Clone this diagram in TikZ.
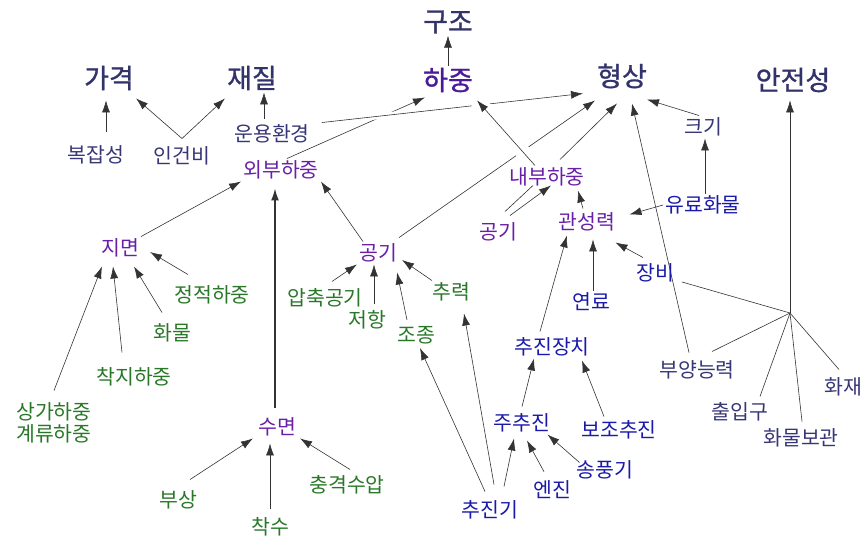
\documentclass[tikz,border=0pt]{standalone}
\usepackage{fontspec}
\setmainfont{Noto Sans CJK KR}
\newfontfamily\headFont[FakeBold=1]{Noto Sans CJK KR}
\usepackage{tikz}
\usetikzlibrary{arrows.meta,backgrounds}
\definecolor{headNavy}{RGB}{51,51,107}
\definecolor{loadIndigo}{RGB}{74,26,153}
\definecolor{loadPurple}{RGB}{106,31,168}
\definecolor{leafGreen}{RGB}{40,120,40}
\definecolor{partBlue}{RGB}{26,26,170}
\definecolor{slateNavy}{RGB}{55,55,120}
\tikzset{
  termBase/.style={inner sep=2pt,font=\fontsize{20.5}{22}\selectfont},
  headTerm/.style={termBase,font=\headFont\fontsize{27}{29}\selectfont,text=headNavy},
  loadHead/.style={headTerm,text=loadIndigo},
  subTerm/.style={termBase,text=slateNavy},
  loadTerm/.style={termBase,text=loadPurple},
  leafTerm/.style={termBase,text=leafGreen},
  partTerm/.style={termBase,text=partBlue},
  arr/.style={draw=black!80,line width=0.6pt,-{Latex[length=12pt,width=8pt]}},
  spoke/.style={draw=black!80,line width=0.6pt},
  gapped/.style={preaction={draw=white,line width=#1,arrows=-}}
}

\begin{document}
\begin{tikzpicture}[x=1pt,y=-1pt]
\useasboundingbox (0,0) rectangle (864,538);

% top row
\node[headTerm] (gujo) at (448,22) {구조};
\node[loadHead] (hajung) at (448,80) {하중};
\node[headTerm] (gagyeok) at (109,78) {가격};
\node[headTerm] (jaejil) at (252,78) {재질};
\node[headTerm] (hyeongsang) at (622,76) {형상};
\node[headTerm] (anjeon) at (793,80) {안전성};

% second row
\node[subTerm] (bokjap) at (96,155) {복잡성};
\node[subTerm] (ingeonbi) at (182,156) {인건비};
\node[subTerm] (unyong) at (272,134) {운용환경};
\node[subTerm] (keugi) at (703,127) {크기};
\node[loadTerm] (oebu) at (281,170) {외부하중};
\node[loadTerm] (naebu) at (547,177) {내부하중};
\node[loadTerm] (gonggiIn) at (498,232) {공기};
\node[loadTerm] (gwanseong) at (587,222) {관성력};
\node[partTerm] (yuryo) at (703,205) {유료화물};

% loads
\node[loadTerm] (jimyeon) at (120,248) {지면};
\node[loadTerm] (gonggiOut) at (378,253) {공기};
\node[loadTerm] (sumyeon) at (277,427) {수면};
\node[leafTerm] (jeongjeok) at (212,295) {정적하중};
\node[leafTerm] (hwamul) at (172,333) {화물};
\node[leafTerm] (chakji) at (134,377) {착지하중};
\node[leafTerm,align=center] (sangga) at (54,423) {상가하중\\계류하중};
\node[leafTerm] (apchuk) at (325,298) {압축공기};
\node[leafTerm] (jeohang) at (367,320) {저항};
\node[leafTerm] (jojong) at (416,335) {조종};
\node[leafTerm] (churyeok) at (451,292) {추력};
\node[leafTerm] (busang) at (178,500) {부상};
\node[leafTerm] (chaksu) at (270,527) {착수};
\node[leafTerm] (chunggyeok) at (347,485) {충격수압};

% propulsion and equipment
\node[partTerm] (jangbi) at (655,273) {장비};
\node[partTerm] (yeonryo) at (591,302) {연료};
\node[partTerm] (chujinjangchi) at (552,347) {추진장치};
\node[partTerm] (juchujin) at (522,423) {주추진};
\node[partTerm] (bojo) at (619,430) {보조추진};
\node[partTerm] (songpung) at (605,470) {송풍기};
\node[partTerm] (enjin) at (552,490) {엔진};
\node[partTerm] (chujingi) at (490,510) {추진기};

% safety
\node[subTerm] (buyang) at (697,370) {부양능력};
\node[subTerm] (chulip) at (740,412) {출입구};
\node[subTerm] (hwamulbo) at (801,438) {화물보관};
\node[subTerm] (hwajae) at (843,387) {화재};
\coordinate (hub) at (790,313);

\begin{scope}[on background layer]
\draw[arr] (hajung.north) -- (gujo.south);
\draw[arr,shorten <=12pt,shorten >=8pt] ([xshift=10pt]bokjap.north) -- ([xshift=10pt]bokjap.north |- gagyeok.south);
\draw[arr] ([yshift=6pt]ingeonbi.north) -- ([yshift=-6pt]gagyeok.south east);
\draw[arr] ([yshift=6pt]ingeonbi.north) -- ([yshift=-6pt]jaejil.south west);
\draw[arr,shorten <=4pt] ([xshift=-8pt]unyong.north) -- ([xshift=-8pt]unyong.north |- jaejil.south);

% crossing lines to the load and shape
\draw[arr] ([xshift=6pt]oebu.north) -- ([xshift=4pt,yshift=-3pt]hajung.south west);
\draw[arr,gapped=6pt] ([xshift=10pt]unyong.north east) -- ([xshift=-39pt,yshift=-3pt]hyeongsang.south);
\draw[arr] ([yshift=4pt]gonggiOut.north east) -- ([xshift=-27pt,yshift=-10pt]hyeongsang.south);
\draw[arr,gapped=15pt] ([xshift=-12pt]naebu.north) -- ([xshift=2pt,yshift=-6pt]hajung.south east);
\draw[arr] ([xshift=13pt,yshift=6pt]naebu.north) -- ([xshift=-5pt,yshift=-13pt]hyeongsang.south);

% external load
\draw[arr] ([xshift=-15pt]gonggiOut.north) -- (oebu.south east);
\draw[arr] (jimyeon.north east) -- (oebu.south west);
\draw[arr,line width=1.3pt,shorten <=8pt,shorten >=7pt] ([xshift=-2pt]sumyeon.north) -- ([xshift=-2pt]sumyeon.north |- oebu.south);
\draw[arr] ([xshift=-24pt,yshift=9pt]jeongjeok.north) -- ([xshift=9pt,yshift=-4pt]jimyeon.east);
\draw[arr] ([xshift=-10pt,yshift=9pt]hwamul.north) -- ([xshift=14pt,yshift=-7pt]jimyeon.south);
\draw[arr] ([xshift=-12pt,yshift=13pt]chakji.north) -- ([xshift=-7pt,yshift=-7pt]jimyeon.south);
\draw[arr] ([yshift=10pt]sangga.north) -- ([xshift=3pt,yshift=-7pt]jimyeon.south west);
\draw[arr] ([xshift=12pt,yshift=9pt]busang.north) -- ([xshift=-3pt]sumyeon.south west);
\draw[arr,shorten >=5pt] ([yshift=6pt]chaksu.north) -- (chaksu.north |- sumyeon.south);
\draw[arr] ([xshift=3pt,yshift=4pt]chunggyeok.north) -- ([xshift=2pt]sumyeon.south east);
\draw[arr] ([xshift=7pt,yshift=5pt]apchuk.north) -- (gonggiOut.south west);
\draw[arr] ([xshift=7pt,yshift=4pt]jeohang.north) -- ([xshift=7pt]jeohang.north |- gonggiOut.south);
\draw[arr] ([xshift=-9pt,yshift=4pt]jojong.north) -- ([xshift=-2pt,yshift=-8pt]gonggiOut.south east);
\draw[arr] ([xshift=2pt]churyeok.north west) -- ([xshift=3pt,yshift=-7pt]gonggiOut.east);

% propulsion
\draw[arr] ([xshift=-5pt,yshift=7pt]chujingi.north) -- ([xshift=4pt,yshift=-2pt]jojong.south);
\draw[arr] ([xshift=4pt,yshift=14pt]chujingi.north) -- ([xshift=13pt,yshift=-10pt]churyeok.south);
\draw[arr] ([xshift=14pt,yshift=12pt]chujingi.north) -- ([xshift=-8pt,yshift=-4pt]juchujin.south);
\draw[arr] ([xshift=-8pt,yshift=7pt]enjin.north) -- ([xshift=5pt,yshift=-6pt]juchujin.south);
\draw[arr] ([xshift=5pt,yshift=-4pt]songpung.north west) -- ([xshift=-5pt]juchujin.south east);
\draw[arr] ([yshift=5pt]juchujin.north) -- ([xshift=-18pt]chujinjangchi.south);
\draw[arr] ([xshift=-15pt,yshift=2pt]bojo.north) -- ([xshift=-10pt,yshift=-2pt]chujinjangchi.south east);
\draw[arr] ([xshift=-12pt,yshift=4pt]chujinjangchi.north) -- ([xshift=-20pt,yshift=-2pt]gwanseong.south);

% internal load
\draw[arr,shorten >=6pt] ([xshift=2pt]yeonryo.north) -- ([xshift=2pt]yeonryo.north |- gwanseong.south);
\draw[arr] ([xshift=9pt,yshift=4pt]jangbi.north west) -- ([xshift=-2pt,yshift=-9pt]gwanseong.south east);
\draw[arr] ([xshift=-4pt,yshift=2pt]gwanseong.north) -- ([xshift=-9pt,yshift=-2pt]naebu.south east);
\draw[arr] (yuryo.west) -- ([xshift=12pt,yshift=-4pt]gwanseong.north east);
\draw[spoke] ([xshift=7pt,yshift=9pt]gonggiIn.north) -- ([xshift=-14pt,yshift=3pt]naebu.south);
\draw[arr] ([xshift=12pt,yshift=5pt]gonggiIn.north) -- ([xshift=4pt,yshift=3pt]naebu.south);

% shape
\draw[arr] ([xshift=2pt]yuryo.north) -- ([xshift=2pt]yuryo.north |- keugi.south);
\draw[arr] ([xshift=-4pt]keugi.north) -- ([xshift=25pt,yshift=-9pt]hyeongsang.south);
\draw[arr] ([xshift=-8pt,yshift=6pt]buyang.north) -- ([xshift=10pt,yshift=-13pt]hyeongsang.south);

% safety
\draw[arr,shorten >=6pt] (hub) -- (hub |- anjeon.south);
\draw[spoke] ([xshift=6pt,yshift=-9pt]jangbi.east) -- (hub);
\draw[spoke] ([xshift=15pt,yshift=7pt]buyang.north) -- (hub);
\draw[spoke] ([xshift=20pt,yshift=4pt]chulip.north) -- (hub);
\draw[spoke] ([xshift=1pt,yshift=5pt]hwamulbo.north) -- (hub);
\draw[spoke] ([xshift=-4pt,yshift=6pt]hwajae.north) -- (hub);
\end{scope}
\end{tikzpicture}
\end{document}
